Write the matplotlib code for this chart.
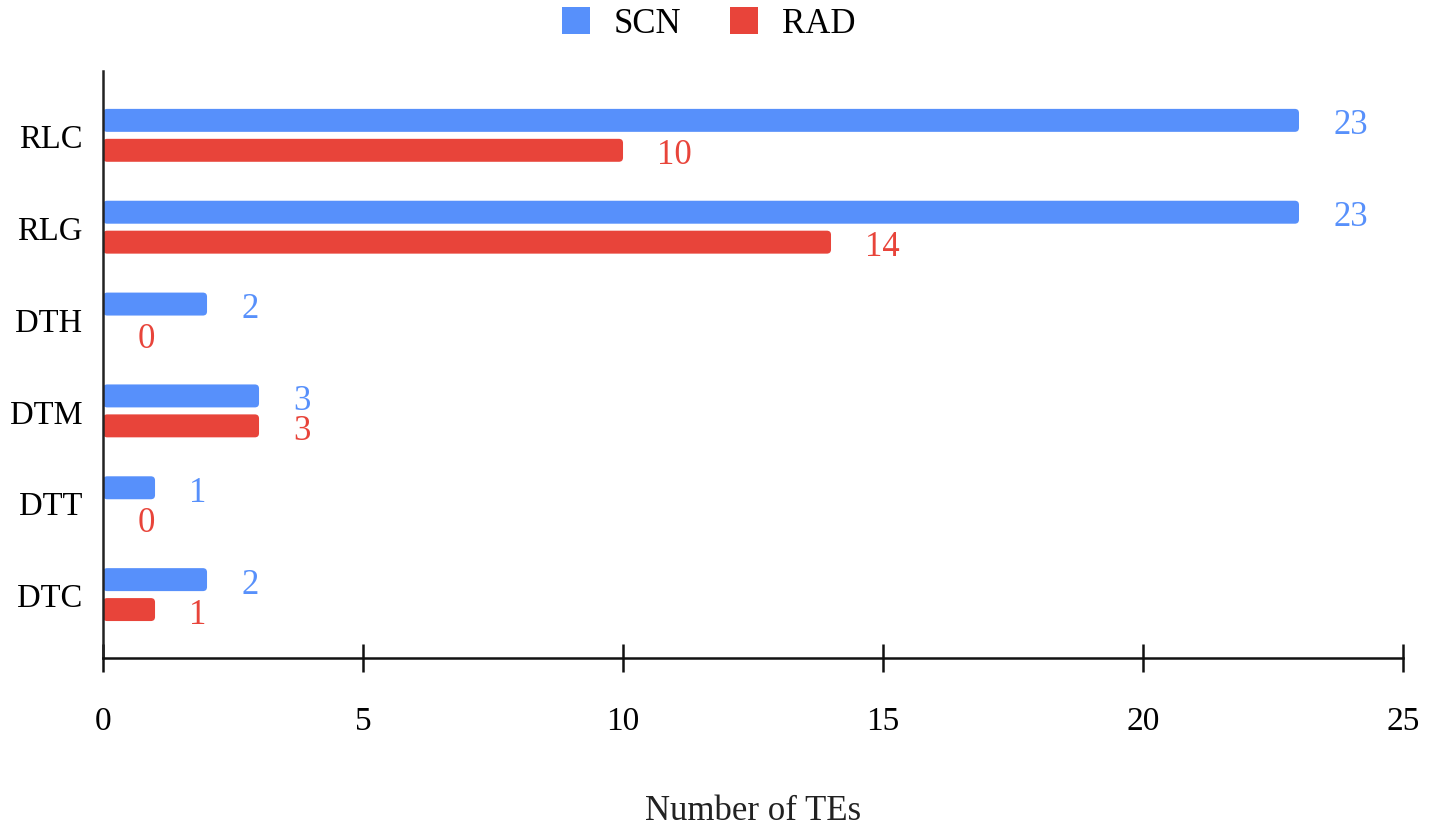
import matplotlib
matplotlib.use("Agg")
import matplotlib.pyplot as plt
from matplotlib.patches import FancyBboxPatch, Patch
import numpy as np

categories = ["RLC", "RLG", "DTH", "DTM", "DTT", "DTC"]
scn = [23, 23, 2, 3, 1, 2]
rad = [10, 14, 0, 3, 0, 1]
xticks = [0, 5, 10, 15, 20, 25]

BLUE = "#5790FB"
RED = "#E8443A"
FONT = ["Liberation Serif", "DejaVu Serif"]
plt.rcParams["font.family"] = FONT

fig = plt.figure(figsize=(14.29, 8.29), dpi=100)
ax = fig.add_axes([0.0721, 0.2051, 0.9097, 0.708])

y = np.arange(len(categories))
h = 0.25
off = 0.163
b1 = ax.barh(y - off, scn, height=h, color=BLUE)
b2 = ax.barh(y + off, rad, height=h, color=RED)

ax.set_xlim(0, 25)
ax.set_ylim(5.69, -0.70)

# rounded right ends
asp = (1 / 92) / (1 / 52)
for cont in (b1, b2):
    for r in cont.patches:
        r.set_visible(False)
        w = r.get_width()
        if w <= 0:
            continue
        fp = FancyBboxPatch((r.get_x(), r.get_y()), w, r.get_height(),
                            boxstyle="round,pad=0,rounding_size=0.08",
                            mutation_aspect=asp, facecolor=r.get_facecolor(),
                            edgecolor="none", clip_on=False)
        ax.add_patch(fp)

for vals, yy, col in ((scn, y - off, BLUE), (rad, y + off, RED)):
    for v, yv in zip(vals, yy):
        ax.text(v + 0.66, yv + 0.05, str(v), color=col, fontsize=25,
                ha="left", va="center")

ax.set_yticks(y)
ax.set_yticklabels(categories, fontsize=23.5)
ax.set_xticks(xticks)
ax.set_xticklabels([str(t) for t in xticks], fontsize=24)
ax.tick_params(axis="y", length=0, pad=15)
ax.tick_params(axis="x", direction="inout", length=20, width=1.8, pad=24,
               color="#111111")
for s in ("top", "right"):
    ax.spines[s].set_visible(False)
ax.spines["left"].set_linewidth(1.8)
ax.spines["bottom"].set_linewidth(1.8)
ax.spines["left"].set_color("#222222")
ax.spines["bottom"].set_color("#111111")

ax.set_xlabel("Number of TEs", fontsize=25, labelpad=42, color="#222222")

handles = [Patch(facecolor=BLUE, label="SCN"), Patch(facecolor=RED, label="RAD")]
fig.legend(handles=handles, loc="upper center", bbox_to_anchor=(0.496, 1.028),
           ncol=2, frameon=False, fontsize=25, handlelength=0.8, handleheight=0.8,
           columnspacing=1.4, handletextpad=0.7)

fig.savefig("out.png", dpi=100)
